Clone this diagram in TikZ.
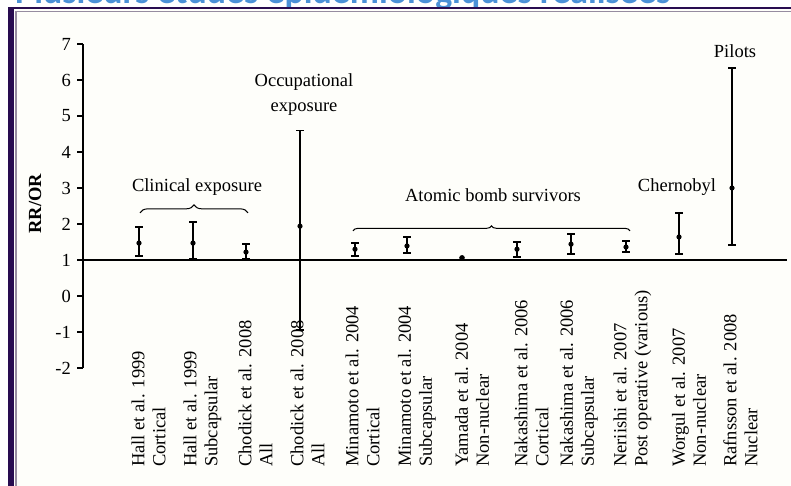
\documentclass[tikz,border=0pt]{standalone}
\usepackage{fontspec}
\setmainfont{Liberation Serif}
\newfontfamily\titlefont{Carlito}
\usetikzlibrary{decorations.pathreplacing}
\definecolor{framepurple}{RGB}{40,12,80}
\definecolor{framegray}{RGB}{150,140,160}
\definecolor{titleblue}{RGB}{75,145,215}
\definecolor{paper}{RGB}{254,254,250}
\tikzset{
  lbl/.style={rotate=90, anchor=west, align=left, inner sep=0pt, font=\fontsize{18.5}{21}\selectfont},
  txt/.style={inner sep=0pt, align=center, font=\fontsize{18.5}{25}\selectfont},
  errbar/.style={line width=1.5pt},
  grpbrace/.style={decorate, decoration={brace, amplitude=#1}, line width=1pt},
}
% x, low, mid, high
\newcommand{\ebar}[4]{%
  \draw[errbar] (#1,#2) -- (#1,#4);
  \draw[errbar] (#1-4,#2) -- (#1+4,#2) (#1-4,#4) -- (#1+4,#4);
  \fill (#1,#3) circle (2.6pt);}
\begin{document}
\begin{tikzpicture}[x=1pt, y=-1pt]
\useasboundingbox (0,0) rectangle (791,486);
\fill[white] (0,0) rectangle (791,486);
% title, cut off by the frame
\node[anchor=base west, inner sep=0pt, text=titleblue] (title) at (15,4)
  {\resizebox{655pt}{!}{\titlefont\bfseries Plusieurs études épidémiologiques réalisées}};
\fill[paper] (14,9) rectangle (791,486);
\draw[framepurple, line width=2.5pt] (8,8) -- (791,8);
\fill[framepurple] (8,7) rectangle (14,486);
\draw[framegray, line width=1.5pt] (791,11.5) -- (16,11.5) -- (16,486);

\begin{scope}[x=1pt, y=36pt, yshift=-296pt]
% axes
\draw[line width=1.5pt] (83,-2) -- (83,7);
\draw[line width=1.2pt] (77,7) -- (83,7) (77,6) -- (83,6) (77,5) -- (83,5)
  (77,4) -- (83,4) (77,3) -- (83,3) (77,2) -- (83,2) (77,0) -- (83,0)
  (77,-1) -- (83,-1) (77,-2) -- (83,-2);
\draw[line width=1.5pt] (77,1) -- (787,1);
\node[txt, anchor=east] (y7) at (71,7) {7};
\node[txt, anchor=east] (y6) at (71,6) {6};
\node[txt, anchor=east] (y5) at (71,5) {5};
\node[txt, anchor=east] (y4) at (71,4) {4};
\node[txt, anchor=east] (y3) at (71,3) {3};
\node[txt, anchor=east] (y2) at (71,2) {2};
\node[txt, anchor=east] (y1) at (71,1) {1};
\node[txt, anchor=east] (y0) at (71,0) {0};
\node[txt, anchor=east] (ym1) at (71,-1) {-1};
\node[txt, anchor=east] (ym2) at (71,-2) {-2};
\node[txt, rotate=90, font=\fontsize{18.5}{20}\selectfont\bfseries] (ylab) at (35,2.56) {RR/OR};

% studies
\ebar{139}{1.11}{1.47}{1.92}
\ebar{193}{1.03}{1.47}{2.06}
\ebar{246}{1.03}{1.22}{1.44}
\ebar{300}{-0.94}{1.94}{4.6}
\ebar{355}{1.11}{1.3}{1.47}
\ebar{407}{1.19}{1.39}{1.64}
\fill (462,1.06) circle (2.8pt);
\ebar{517}{1.08}{1.3}{1.5}
\ebar{571}{1.17}{1.44}{1.72}
\ebar{626}{1.22}{1.36}{1.53}
\ebar{679}{1.17}{1.64}{2.3}
\ebar{732}{1.42}{3.0}{6.33}

\node[lbl] (hallC) at (148.5,-4.75) {Hall et al. 1999\\Cortical};
\node[lbl] (hallS) at (202.5,-4.75) {Hall et al. 1999\\Subcapsular};
\node[lbl] (chodA) at (255.5,-4.75) {Chodick et al. 2008\\All};
\node[lbl] (chodO) at (307.5,-4.75) {Chodick et al. 2008\\All};
\node[lbl] (minaC) at (362.5,-4.75) {Minamoto et al. 2004\\Cortical};
\node[lbl] (minaS) at (417,-4.75) {Minamoto et al. 2004\\Subcapsular};
\node[lbl] (yama) at (472,-4.75) {Yamada et al. 2004\\Non-nuclear};
\node[lbl] (nakaC) at (531.5,-4.75) {Nakashima et al. 2006\\Cortical};
\node[lbl] (nakaS) at (579,-4.75) {Nakashima et al. 2006\\Subcapsular};
\node[lbl] (neri) at (632.5,-4.75) {Neriishi et al. 2007\\Post operative (various)};
\node[lbl] (worg) at (689,-4.75) {Worgul et al. 2007\\Non-nuclear};
\node[lbl] (rafn) at (740.5,-4.75) {Rafnsson et al. 2008\\Nuclear};

% groups
\draw[grpbrace=8pt] (140,2.31) -- (248,2.31);
\node[txt] (clin) at (197,3.03) {Clinical exposure};
\node[txt] (occ) at (304,5.6) {Occupational\\exposure};
\draw[grpbrace=5pt] (353,1.81) -- (630,1.81);
\node[txt] (atom) at (493,2.81) {Atomic bomb survivors};
\node[txt] (cher) at (677,3.03) {Chernobyl};
\node[txt] (pil) at (735,6.81) {Pilots};
\end{scope}
\end{tikzpicture}
\end{document}
